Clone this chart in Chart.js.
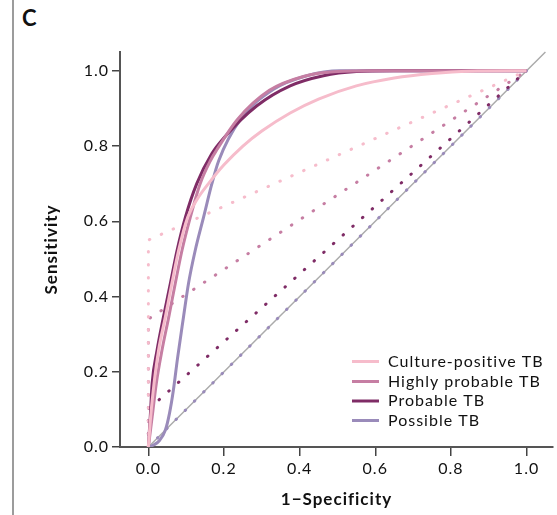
<!DOCTYPE html>
<html lang="en">
<head>
<meta charset="UTF-8">
<title>ROC curves by TB category</title>
<script src="https://cdn.jsdelivr.net/npm/chart.js"></script>
<style>
  html, body { margin: 0; padding: 0; background: #fff; }
  #wrap { position: relative; width: 557px; height: 515px; }
  #panel-line { position: absolute; left: 12px; top: 0; width: 2px; height: 515px; background: #9c9c9c; }
  #panel-label { position: absolute; left: 22px; top: 4px; font: bold 22px Lato, sans-serif; color: #111; }
  canvas { position: absolute; left: 0; top: 0; }
</style>
</head>
<body>
<div id="wrap">
  <div id="panel-line"></div>
  <div id="panel-label">C</div>
  <canvas id="roc" width="557" height="515"></canvas>
</div>
<script>
// series labels and tick values
const seriesLabels = ['Culture-positive TB', 'Highly probable TB', 'Probable TB', 'Possible TB'];
const xTicks = [0, 0.2, 0.4, 0.6, 0.8, 1.0];
const yTicks = [0, 0.2, 0.4, 0.6, 0.8, 1.0];

// smooth ROC curves (1-specificity, sensitivity)
const cultureX = [0, 0.006, 0.015, 0.027, 0.045, 0.062, 0.08, 0.104, 0.13, 0.159, 0.2, 0.25, 0.3, 0.375, 0.45, 0.55, 0.65, 0.75, 0.85, 1.0];
const cultureY = [0, 0.08, 0.169, 0.257, 0.346, 0.434, 0.523, 0.611, 0.66, 0.70, 0.75, 0.80, 0.84, 0.888, 0.925, 0.96, 0.981, 0.993, 0.999, 1.0];
const highlyX = [0, 0.01, 0.021, 0.036, 0.054, 0.071, 0.089, 0.111, 0.137, 0.164, 0.181, 0.235, 0.32, 0.41, 0.5, 0.6, 1.0];
const highlyY = [0, 0.08, 0.169, 0.257, 0.346, 0.434, 0.523, 0.611, 0.70, 0.761, 0.79, 0.87, 0.948, 0.985, 0.998, 1.0, 1.0];
const probableX = [0, 0.005, 0.01, 0.023, 0.04, 0.058, 0.076, 0.098, 0.128, 0.168, 0.2, 0.287, 0.375, 0.463, 0.55, 0.65, 1.0];
const probableY = [0, 0.08, 0.169, 0.257, 0.346, 0.434, 0.523, 0.611, 0.70, 0.78, 0.822, 0.907, 0.96, 0.987, 0.998, 1.0, 1.0];
const possibleX = [0, 0.015, 0.03, 0.045, 0.056, 0.066, 0.077, 0.093, 0.106, 0.124, 0.146, 0.168, 0.186, 0.243, 0.331, 0.419, 0.507, 1.0];
const possibleY = [0, 0.006, 0.018, 0.045, 0.09, 0.15, 0.235, 0.346, 0.434, 0.523, 0.611, 0.70, 0.761, 0.87, 0.951, 0.987, 1.0, 1.0];

// dotted lines (single cut-off)
const cultureDotX = [0, 0, 1];
const cultureDotY = [0, 0.55, 1];
const highlyDotX = [0, 0, 1];
const highlyDotY = [0, 0.34, 1];
const probableDotX = [0, 0, 1];
const probableDotY = [0, 0.1, 1];
const possibleDotX = [0, 1];
const possibleDotY = [0, 1];

// reference diagonal
const diagX = [0, 1.05];
const diagY = [0, 1.05];

const colors = ['#f6bccb', '#c67ea3', '#7f2c66', '#9a8bba'];

function pts(xs, ys) {
  return xs.map((x, i) => ({ x: x, y: ys[i] }));
}

const curves = [[cultureX, cultureY], [highlyX, highlyY], [probableX, probableY], [possibleX, possibleY]];
const dots = [[cultureDotX, cultureDotY], [highlyDotX, highlyDotY], [probableDotX, probableDotY], [possibleDotX, possibleDotY]];

const datasets = [];
curves.forEach((c, i) => {
  datasets.push({
    label: seriesLabels[i],
    data: pts(c[0], c[1]),
    borderColor: colors[i],
    borderWidth: 3,
    pointRadius: 0,
    cubicInterpolationMode: 'monotone',
    fill: false,
    order: 1
  });
});
dots.forEach((d, i) => {
  datasets.push({
    label: seriesLabels[i] + ' cut-off',
    data: pts(d[0], d[1]),
    borderColor: colors[i],
    borderWidth: 3,
    borderDash: [0.5, 12.5],
    borderCapStyle: 'round',
    pointRadius: 0,
    tension: 0,
    fill: false,
    order: 2
  });
});
datasets.push({
  label: 'Reference',
  data: pts(diagX, diagY),
  borderColor: '#ababab',
  borderWidth: 1.5,
  pointRadius: 0,
  tension: 0,
  fill: false,
  clip: false,
  order: 3
});

// slightly wider text, closer to the original typeface
const spacing = {
  id: 'spacing',
  beforeLayout(chart) { chart.ctx.letterSpacing = '1px'; },
  beforeDraw(chart) { chart.ctx.letterSpacing = '1px'; }
};

// legend drawn inside the plot, lower right
const insideLegend = {
  id: 'insideLegend',
  afterDatasetsDraw(chart) {
    const ctx = chart.ctx;
    const rows = [361.5, 381.5, 401, 420.5];
    ctx.save();
    ctx.font = '16px Lato, sans-serif';
    ctx.letterSpacing = '1px';
    ctx.textBaseline = 'middle';
    ctx.fillStyle = '#111';
    seriesLabels.forEach((lab, i) => {
      ctx.strokeStyle = colors[i];
      ctx.lineWidth = 3;
      ctx.beginPath();
      ctx.moveTo(352, rows[i]);
      ctx.lineTo(379, rows[i]);
      ctx.stroke();
      ctx.fillText(lab, 388, rows[i]);
    });
    ctx.restore();
  }
};

const tickFont = { family: 'Lato, sans-serif', size: 16 };
const titleFont = { family: 'Lato, sans-serif', size: 17, weight: 'bold' };

new Chart(document.getElementById('roc'), {
  type: 'line',
  data: { datasets: datasets },
  options: {
    responsive: false,
    animation: false,
    layout: { padding: { top: 52, right: 4, bottom: 0, left: 0 } },
    plugins: { legend: { display: false }, tooltip: { enabled: false } },
    scales: {
      x: {
        type: 'linear',
        min: -0.075,
        max: 1.07,
        afterBuildTicks: s => { s.ticks = xTicks.map(v => ({ value: v })); },
        afterFit: s => { s.height = 68; },
        grid: { drawOnChartArea: false, tickLength: 9, color: '#444', lineWidth: 1.5 },
        border: { color: '#555', width: 2 },
        ticks: { font: tickFont, color: '#111', padding: 3, maxRotation: 0, callback: v => v.toFixed(1) },
        title: { display: true, text: '1\u2212Specificity', font: titleFont, color: '#111', padding: { bottom: 5 } }
      },
      y: {
        type: 'linear',
        min: 0,
        max: 1.05,
        afterBuildTicks: s => { s.ticks = yTicks.map(v => ({ value: v })); },
        afterFit: s => { s.width = 120; },
        grid: { drawOnChartArea: false, tickLength: 8, color: '#444', lineWidth: 1.5 },
        border: { color: '#555', width: 2 },
        ticks: { font: tickFont, color: '#111', padding: 3, callback: v => v.toFixed(1) },
        title: { display: true, text: 'Sensitivity', font: titleFont, color: '#111', padding: { top: 41 } }
      }
    }
  },
  plugins: [spacing, insideLegend]
});
</script>
</body>
</html>
